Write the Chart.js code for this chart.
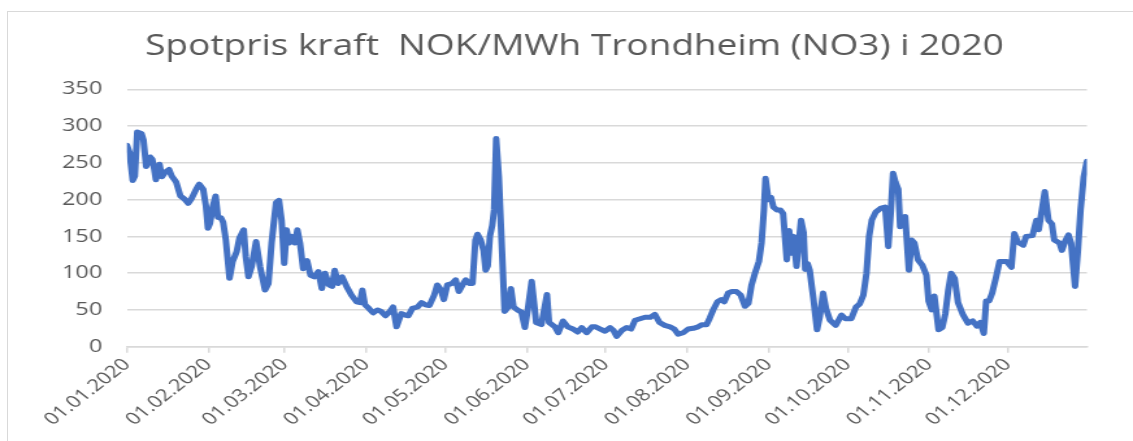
<!DOCTYPE html>
<html>
<head>
<meta charset="utf-8">
<title>Spotpris kraft NO3 2020</title>
<script src="https://cdn.jsdelivr.net/npm/chart.js@4.4.1/dist/chart.umd.min.js"></script>
<style>
  html, body { margin: 0; padding: 0; background: #fff; overflow: hidden; }
  #frame { position: absolute; left: 7px; top: 11px; width: 1200px; height: 500px; border: 1.5px solid #d9d9d9; }
  /* the reference is an Excel chart stretched sideways, so draw narrow and stretch */
  #wrap { position: absolute; left: 0; top: 0; width: 872px; height: 441px; transform-origin: 0 0; transform: scaleX(1.2993); }
</style>
</head>
<body>
<div id="frame"></div>
<div id="wrap"><canvas id="chart" width="872" height="441"></canvas></div>
<script>
// dag i året (0 = 01.01.2020) og spotpris NOK/MWh, lest av grafen
const dayIndex = [
  0, 1, 2.2, 3, 3.9, 5.5, 6.3, 7.3, 8.8, 9.6, 10.3, 11, 12.4, 13.3, 14.5, 16, 17, 18.7, 20.3, 21.8,
  23.3, 24.5, 26.3, 27.5, 29, 30, 30.8, 31.6, 32.6, 33.7, 34.6, 35.8, 36.6, 37.6, 39, 40.2, 41.7, 42.8, 44.4, 45.2,
  46.2, 47.4, 49.1, 50.6, 52.5, 53.8, 55, 56.7, 57.8, 58.8, 59.8, 60.7, 61.7, 62.6, 63.9, 64.8, 65.8, 67, 68.5, 69.8,
  71.2, 72.8, 74.1, 75.3, 76.8, 78, 79, 80.3, 81.8, 83.5, 85.4, 87.3, 88.6, 89.5, 90.5, 92, 93.6, 95.3, 96.6, 98.3,
  100, 101.2, 102.5, 104.3, 105.8, 107, 108.5, 110.5, 112, 113.5, 115, 116.8, 118, 119.4, 120.5, 121.8, 123.6, 125, 126.2, 127.6,
  128.8, 130.2, 131.4, 132.5, 133.3, 134.5, 135.6, 136.4, 137.2, 138, 138.9, 139.6, 140.4, 141.4, 142.6, 143.6, 145, 146, 147, 148.5,
  150, 151.3, 152.4, 153.9, 155.6, 157.6, 159.7, 160.5, 162.7, 164, 165.8, 167.6, 169.6, 171.4, 172.9, 174.8, 176.8, 178.2, 180, 181.8,
  183.7, 185, 186.2, 188.1, 190, 191.7, 193.2, 195.1, 197, 199, 200.7, 202.5, 204.5, 206.5, 208.1, 209.6, 211.5, 213.4, 215.3, 217.2,
  218.7, 220.4, 221.6, 222.9, 224.5, 226, 227.1, 228.6, 230, 231.8, 233.4, 235, 236.3, 237.5, 238.8, 240.3, 241.3, 242.2, 242.8, 243.9,
  244.9, 245.8, 247.1, 248.4, 249.5, 250.4, 250.9, 251.8, 252.6, 253.5, 254.6, 256.3, 257.3, 257.9, 258.8, 259.6, 261, 262.4, 263.5, 264.7,
  265.8, 267.3, 269.5, 271.7, 273.2, 275.4, 277.2, 278.6, 280, 281.2, 282.2, 283.2, 284.7, 286.5, 288.3, 289.5, 290.5, 291.3, 292.2, 293.3,
  294, 294.9, 295.9, 297.3, 298.4, 299.4, 300.8, 302.4, 304, 304.8, 306, 307, 308.6, 310, 311.2, 312.3, 313.4, 314.7, 316, 317.8,
  319.8, 321.6, 323.2, 324.5, 325.8, 326.7, 327.8, 329, 330.5, 331.8, 334.5, 336.3, 337.4, 338.8, 340.8, 341.9, 344.3, 345.8, 346.7, 349,
  350.4, 351.7, 352.6, 354.6, 355.5, 356.7, 358, 359, 360.5, 361.6, 362.6, 363.8, 365
];
const spotPrice = [
  274, 264, 226, 232, 292, 290, 281, 245, 258, 255, 243, 227, 248, 231, 237, 241, 232, 224, 205, 201,
  195, 201, 214, 221, 214, 192, 161, 168, 190, 205, 176, 175, 169, 145, 93, 116, 129, 148, 159, 122,
  95, 109, 143, 109, 77, 86, 141, 196, 199, 172, 113, 159, 141, 150, 141, 159, 141, 106, 117, 97,
  95, 102, 79, 100, 84, 82, 104, 86, 95, 82, 70, 61, 60, 77, 57, 52, 46, 50, 48, 42,
  48, 54, 27, 45, 43, 42, 52, 54, 60, 57, 56, 70, 84, 77, 64, 84, 86, 91, 75, 84,
  91, 86, 86, 145, 153, 145, 131, 104, 110, 150, 165, 186, 283, 231, 131, 48, 54, 79, 54, 50,
  47, 26, 50, 89, 33, 30, 71, 33, 27, 19, 35, 27, 24, 20, 26, 19, 27, 27, 24, 21,
  26, 22, 14, 22, 26, 24, 36, 38, 40, 40, 44, 33, 29, 27, 24, 17, 19, 24, 25, 27,
  30, 30, 39, 50, 61, 64, 61, 73, 75, 75, 70, 55, 59, 84, 100, 116, 141, 186, 229, 200,
  203, 190, 186, 186, 181, 140, 118, 158, 127, 150, 109, 172, 155, 105, 113, 104, 66, 23, 42, 73,
  52, 36, 29, 43, 38, 38, 54, 58, 70, 100, 150, 172, 183, 188, 190, 136, 186, 236, 224, 214,
  163, 172, 177, 104, 145, 141, 118, 111, 97, 62, 50, 69, 23, 26, 45, 77, 100, 93, 60, 44,
  32, 35, 28, 33, 18, 62, 62, 73, 95, 116, 116, 108, 154, 142, 138, 150, 151, 172, 159, 211,
  172, 167, 145, 141, 131, 143, 152, 141, 82, 131, 186, 231, 252
];
// månedsstart og tekst på x-aksen
const monthDays = [0, 31, 60, 91, 121, 152, 182, 213, 244, 274, 305, 335];
const monthLabels = ['01.01.2020', '01.02.2020', '01.03.2020', '01.04.2020', '01.05.2020', '01.06.2020',
  '01.07.2020', '01.08.2020', '01.09.2020', '01.10.2020', '01.11.2020', '01.12.2020'];
const yTicks = [0, 50, 100, 150, 200, 250, 300, 350];

const TEXT = '#595959';
const GRID = '#d9d9d9';
const FONT = "'Open Sans', sans-serif";

new Chart(document.getElementById('chart'), {
  type: 'line',
  data: {
    datasets: [{
      label: 'Spotpris',
      data: dayIndex.map((d, i) => ({ x: d, y: spotPrice[i] })),
      borderColor: '#4472C4',
      borderWidth: 5,
      pointRadius: 0,
      tension: 0,
      borderJoinStyle: 'round',
      borderCapStyle: 'round'
    }]
  },
  options: {
    responsive: false,
    animation: false,
    devicePixelRatio: 1,
    layout: { padding: { left: 47.7, right: 35.5, top: 0, bottom: 0 } },
    plugins: {
      legend: { display: false },
      tooltip: { enabled: false },
      title: {
        display: true,
        text: 'Spotpris kraft  NOK/MWh Trondheim (NO3) i 2020',
        color: TEXT,
        font: { family: FONT, size: 28.5, weight: 'normal', lineHeight: 1.2 },
        padding: { top: 30, bottom: 25.1 }
      }
    },
    scales: {
      x: {
        type: 'linear',
        min: 0,
        max: 365,
        afterBuildTicks: s => { s.ticks = monthDays.map(v => ({ value: v })); },
        afterFit: s => { s.height = 94.3; },
        grid: { drawOnChartArea: false, drawTicks: true, tickLength: 6, color: GRID, lineWidth: 1.5 },
        border: { display: true, color: GRID, width: 1.5 },
        ticks: {
          color: TEXT,
          font: { family: FONT, size: 16.8 },
          minRotation: 45,
          maxRotation: 45,
          padding: 2,
          autoSkip: false,
          callback: v => monthLabels[monthDays.indexOf(v)]
        }
      },
      y: {
        min: 0,
        max: 350,
        afterBuildTicks: s => { s.ticks = yTicks.map(v => ({ value: v })); },
        afterFit: s => { s.width = 50; },
        grid: { color: GRID, lineWidth: 1.5, drawTicks: false },
        border: { display: false },
        ticks: {
          color: TEXT,
          font: { family: FONT, size: 18 },
          padding: 19
        }
      }
    }
  }
});
</script>
</body>
</html>
